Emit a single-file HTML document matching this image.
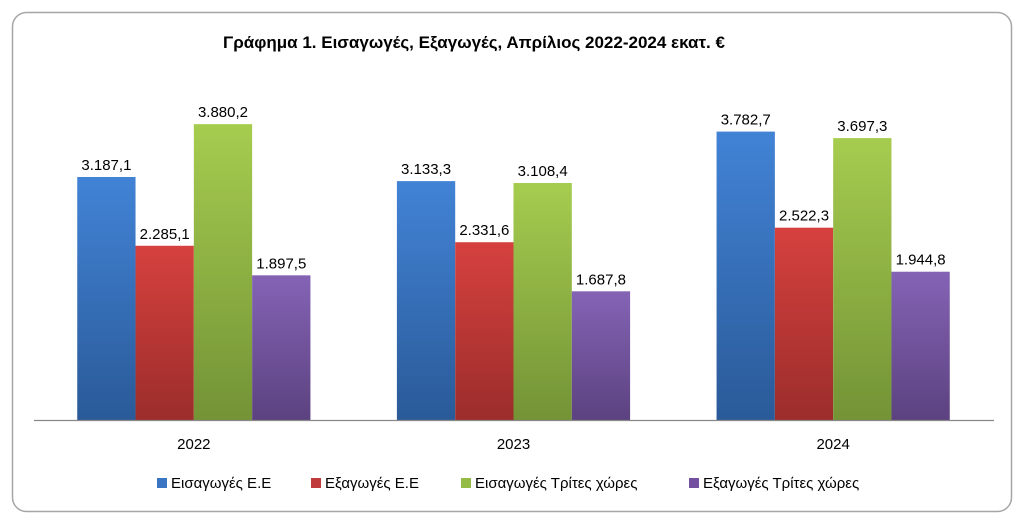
<!DOCTYPE html>
<html><head><meta charset="utf-8"><style>
body{margin:0;background:#fff;width:1025px;height:524px;overflow:hidden}
svg{font-family:"Liberation Sans","DejaVu Sans",sans-serif}
</style></head><body>
<svg id="c" width="1025" height="524">
<defs>
<linearGradient id="g0" x1="0" y1="0" x2="0" y2="1"><stop offset="0" stop-color="#4283d6"/><stop offset="1" stop-color="#2a5a98"/></linearGradient>
<linearGradient id="g1" x1="0" y1="0" x2="0" y2="1"><stop offset="0" stop-color="#d6413e"/><stop offset="1" stop-color="#9b2d2b"/></linearGradient>
<linearGradient id="g2" x1="0" y1="0" x2="0" y2="1"><stop offset="0" stop-color="#a6cc4f"/><stop offset="1" stop-color="#739336"/></linearGradient>
<linearGradient id="g3" x1="0" y1="0" x2="0" y2="1"><stop offset="0" stop-color="#8463b5"/><stop offset="1" stop-color="#5c4280"/></linearGradient>
</defs>
<rect x="12.5" y="12.5" width="999" height="499" rx="14" fill="#fff" stroke="#a6a6a6" stroke-width="1.5"/>
<text x="474" y="48" text-anchor="middle" font-size="17" font-weight="bold" fill="#000">Γράφημα 1. Εισαγωγές, Εξαγωγές, Απρίλιος 2022-2024 εκατ. €</text>
<g id="bars"></g>
<line x1="34" y1="420.5" x2="994" y2="420.5" stroke="#888" stroke-width="1.2"/>
<g id="legend"></g>
</svg>
<script>
const categories=["2022","2023","2024"];
const seriesNames=["Εισαγωγές Ε.Ε","Εξαγωγές  Ε.Ε","Εισαγωγές Τρίτες χώρες","Εξαγωγές Τρίτες χώρες"];
const euImports=[3187.1,3133.3,3782.7];
const euExports=[2285.1,2331.6,2522.3];
const thirdImports=[3880.2,3108.4,3697.3];
const thirdExports=[1897.5,1687.8,1944.8];
const series=[euImports,euExports,thirdImports,thirdExports];
const NS="http://www.w3.org/2000/svg";
const left=34,right=993,base=420,pxPer=243/3187.1;
const catW=(right-left)/categories.length,barW=58.3;
const y=v=>base-v*pxPer;
const xc=i=>left+catW*(i+0.5);
const fmt=v=>{let s=v.toFixed(1).replace('.',',');let [a,b]=s.split(',');a=a.replace(/\B(?=(\d{3})+(?!\d))/g,'.');return a+','+b;};
const gb=document.getElementById('bars');
categories.forEach((c,i)=>{
  series.forEach((s,k)=>{
    const x=xc(i)-2*barW+k*barW;
    const r=document.createElementNS(NS,'rect');
    r.setAttribute('x',x);r.setAttribute('y',y(s[i]));r.setAttribute('width',barW);r.setAttribute('height',base-y(s[i]));
    r.setAttribute('fill','url(#g'+k+')');
    
    
    gb.appendChild(r);
    const t=document.createElementNS(NS,'text');
    t.setAttribute('x',x+barW/2);t.setAttribute('y',y(s[i])-7);t.setAttribute('text-anchor','middle');t.setAttribute('font-size','15');
    t.textContent=fmt(s[i]);
    
    
    gb.appendChild(t);
  });
  const t=document.createElementNS(NS,'text');
  t.setAttribute('x',xc(i));t.setAttribute('y',449);t.setAttribute('text-anchor','middle');t.setAttribute('font-size','15');
  t.textContent=c;
  
  
  gb.appendChild(t);
});
const lx=[157,311,461,689],cols=["#3a75c4","#c0393b","#93bb45","#7451a0"];
const gl=document.getElementById('legend');
seriesNames.forEach((n,k)=>{
  const r=document.createElementNS(NS,'rect');
  r.setAttribute('x',lx[k]);r.setAttribute('y',478);r.setAttribute('width',10);r.setAttribute('height',10);r.setAttribute('fill',cols[k]);
  
  
  gl.appendChild(r);
  const t=document.createElementNS(NS,'text');
  t.setAttribute('x',lx[k]+14);t.setAttribute('y',488);t.setAttribute('font-size','15');t.setAttribute('xml:space','preserve');
  t.textContent=n;
  
  
  gl.appendChild(t);
});
</script>
</body></html>
